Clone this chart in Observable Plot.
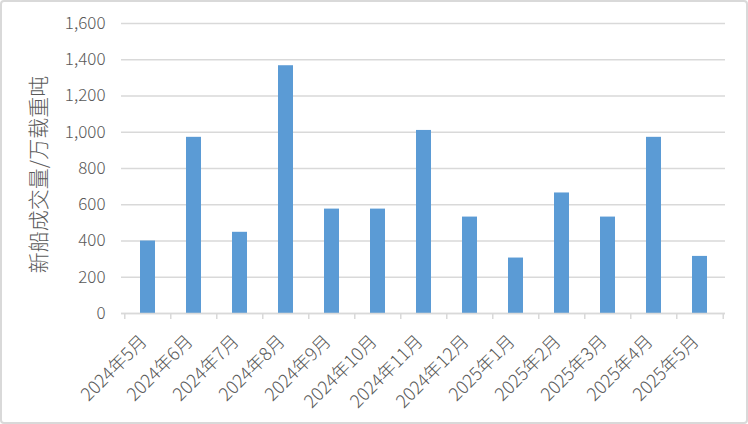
<!DOCTYPE html>
<html><head><meta charset="utf-8">
<script src="https://cdn.jsdelivr.net/npm/d3@7"></script>
<script src="https://cdn.jsdelivr.net/npm/@observablehq/plot@0.6"></script>
<style>
body{margin:0;background:#fff}
#wrap{position:relative;width:748px;height:424px;overflow:hidden}
#border{position:absolute;left:0;top:0;width:748px;height:424px;box-sizing:border-box;border:2px solid #d9d9d9;border-radius:4px;pointer-events:none}
</style>
</head><body><div id="wrap"><div id="border"></div></div>
<script>
const months = ["2024年5月","2024年6月","2024年7月","2024年8月","2024年9月","2024年10月","2024年11月","2024年12月","2025年1月","2025年2月","2025年3月","2025年4月","2025年5月"];
const values = [400, 972, 448, 1367, 576, 576, 1010, 532, 306, 665, 532, 972, 315];
const yTicks = [0, 200, 400, 600, 800, 1000, 1200, 1400, 1600];
const yLabel = "新船成交量/万载重吨";

const data = months.map((m, i) => ({month: m, value: values[i]}));
const W = 748, H = 424, ml = 121, mr = 23, mt = 23, mb = 111;
const step = (W - ml - mr) / months.length;
const grey = "#d9d9d9", textColor = "#595959";

const plot = Plot.plot({
  width: W, height: H,
  marginLeft: ml, marginRight: mr, marginTop: mt, marginBottom: mb,
  style: {fontFamily: '"Noto Sans CJK SC", "Liberation Sans", sans-serif', fontSize: "17px", color: textColor, background: "transparent"},
  x: {domain: months, paddingInner: 0.683, paddingOuter: 0.3415, label: null},
  y: {domain: [0, 1600], label: null},
  marks: [
    Plot.gridY(yTicks, {stroke: grey, strokeOpacity: 1, strokeWidth: 1.5}),
    Plot.barY(data, {x: "month", y: "value", fill: "#5B9BD5"}),
    Plot.ruleY([0], {stroke: grey, strokeWidth: 1.5}),
    Plot.ruleX(months, {x: d => d, y1: 0, y2: 0, dx: -step / 2, insetBottom: -6, stroke: grey, strokeWidth: 1.5}),
    Plot.ruleX([months[months.length - 1]], {x: d => d, y1: 0, y2: 0, dx: step / 2, insetBottom: -6, stroke: grey, strokeWidth: 1.5}),
    Plot.axisY(yTicks, {tickSize: 0, tickPadding: 16, tickFormat: d3.format(","), fill: textColor, fontSize: 17, fontWeight: 300, label: null}),
    Plot.axisX({tickSize: 0, tickRotate: -45, tickPadding: 22, dx: -4, dy: 3, fill: textColor, fontSize: 18, fontWeight: 300, label: null}),
    Plot.text([yLabel], {frameAnchor: "left", textAnchor: "middle", lineAnchor: "middle", rotate: -90, dx: -82, dy: 6, fontSize: 21, fontWeight: 300, fill: textColor})
  ]
});
document.getElementById("wrap").appendChild(plot);
</script>
</body></html>
